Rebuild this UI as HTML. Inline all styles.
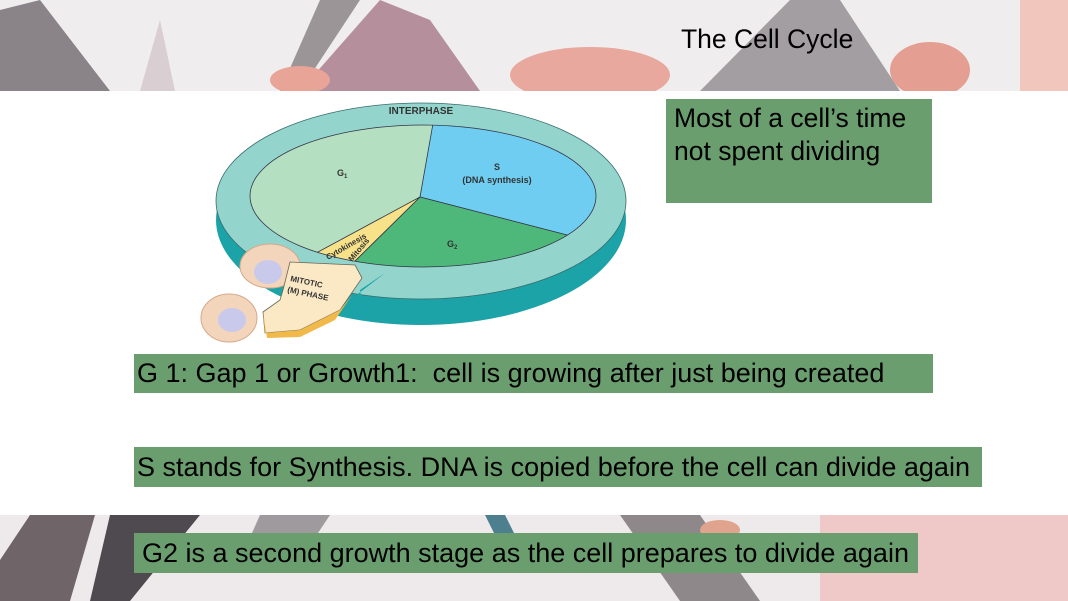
<!DOCTYPE html>
<html><head><meta charset="utf-8"><style>
body{margin:0;width:1068px;height:601px;overflow:hidden;position:relative;background:#f4f2f2;font-family:"Liberation Sans",sans-serif}
.box{position:absolute;background:#6b9e6f;color:#000;font-size:27px;white-space:nowrap}
</style></head><body>
<svg width="1068" height="601" style="position:absolute;left:0;top:0">
<defs><clipPath id="c"><ellipse cx="423" cy="196" rx="173" ry="71"/></clipPath></defs>
<rect x="0" y="0" width="1068" height="91" fill="#efeded"/>
<polygon points="0,10 40,0 110,91 0,91" fill="#8a8488"/>
<polygon points="160,20 175,91 140,91" fill="#d9cfd3"/>
<polygon points="300,91 380,0 430,20 480,91" fill="#b58f9c"/>
<polygon points="320,0 360,0 300,91 280,91" fill="#9c9597"/>
<ellipse cx="300" cy="80" rx="30" ry="14" fill="#e7a497"/>
<ellipse cx="590" cy="75" rx="80" ry="28" fill="#e8a89e"/>
<polygon points="700,91 790,0 840,0 900,91" fill="#a29ea1"/>
<ellipse cx="930" cy="70" rx="40" ry="28" fill="#e49f92"/>
<rect x="1020" y="0" width="48" height="91" fill="#f0c6bd"/>
<rect x="0" y="91" width="1068" height="424" fill="#ffffff"/>
<rect x="0" y="515" width="1068" height="86" fill="#eeeaeb"/>
<polygon points="30,515 95,515 70,601 0,601 0,560" fill="#6f6468"/>
<polygon points="110,515 200,515 130,601 90,601" fill="#4f4a4f"/>
<polygon points="260,515 330,515 300,560 240,560" fill="#9e9a9d"/>
<polygon points="485,515 505,515 515,535 495,535" fill="#4e7f8e"/>
<polygon points="620,515 700,515 760,601 680,601" fill="#8e888b"/>
<rect x="820" y="515" width="248" height="86" fill="#efc9c8"/>
<ellipse cx="720" cy="530" rx="20" ry="10" fill="#e0a38d"/>
<ellipse cx="421" cy="220" rx="205" ry="105" fill="#1ba3a8"/>
<ellipse cx="421" cy="201" rx="205" ry="98" fill="#93d4cd" stroke="#3a6b6b" stroke-width="0.8"/>
<ellipse cx="423" cy="196" rx="173" ry="71" fill="#b4dfc0"/>
<g clip-path="url(#c)" stroke="#334" stroke-width="0.8">
<polygon points="420,197 446,50 800,50 714,273" fill="#6fcdf2"/>
<polygon points="420,197 714,273 600,420 290,325" fill="#4eb87b"/>
<polygon points="420,197 290,325 216,307" fill="#f7e28a"/>
</g>
<ellipse cx="423" cy="196" rx="173" ry="71" fill="none" stroke="#334" stroke-width="0.8"/>
<ellipse cx="270" cy="266" rx="30" ry="22" fill="#f3d5bb" stroke="#d6a88a"/>
<ellipse cx="268" cy="272" rx="14" ry="12" fill="#c9c9ec"/>
<ellipse cx="229" cy="318" rx="28" ry="24" fill="#f3d5bb" stroke="#d6a88a"/>
<ellipse cx="232" cy="320" rx="14" ry="12" fill="#c9c9ec"/>
<polygon points="283,290 290,262 355,265 362,278 340,310 300,330 265,333 263,312 280,300" fill="#fbe9c6" stroke="#665" stroke-width="0.8"/>
<polygon points="263,312 265,333 300,330 340,310 352,295 335,320 300,337 267,338" fill="#f1b84a"/>
<polygon points="350,300 385,273 360,290 365,320" fill="#1ba3a8"/>
<text x="421" y="114" font-size="10" font-weight="bold" text-anchor="middle" fill="#333">INTERPHASE</text>
<text x="337" y="176" font-size="9" font-weight="bold" fill="#333">G<tspan font-size="6" dy="2">1</tspan></text>
<text x="497" y="170" font-size="9" font-weight="bold" text-anchor="middle" fill="#333">S</text>
<text x="497" y="183" font-size="9" font-weight="bold" text-anchor="middle" fill="#333">(DNA synthesis)</text>
<text x="447" y="247" font-size="9" font-weight="bold" fill="#333">G<tspan font-size="6" dy="2">2</tspan></text>
<text x="328" y="260" font-size="8" font-weight="bold" fill="#333" transform="rotate(-30 328 260)">Cytokinesis</text>
<text x="352" y="262" font-size="8" font-weight="bold" fill="#333" transform="rotate(-50 352 262)">Mitosis</text>
<text x="290" y="281" font-size="8" font-weight="bold" fill="#333" transform="rotate(12 290 281)">MITOTIC</text>
<text x="287" y="292" font-size="8" font-weight="bold" fill="#333" transform="rotate(12 287 292)">(M) PHASE</text>
</svg>
<div style="position:absolute;left:681px;top:24px;font-size:26.5px;color:#000">The Cell Cycle</div>
<div class="box" style="left:666px;top:99px;width:266px;height:104px;padding-left:8px;line-height:33px;padding-top:3px;box-sizing:border-box;white-space:normal;font-size:26.5px">Most of a cell’s time not spent dividing</div>
<div class="box" style="left:134px;top:354px;width:799px;height:39px;line-height:39px;padding-left:3px;box-sizing:border-box">G 1: Gap 1 or Growth1:&nbsp; cell is growing after just being created</div>
<div class="box" style="left:134px;top:447px;width:848px;height:40px;line-height:40px;padding-left:3px;box-sizing:border-box">S stands for Synthesis. DNA is copied before the cell can divide again</div>
<div class="box" style="left:134px;top:533px;width:784px;height:40px;line-height:40px;padding-left:8px;box-sizing:border-box">G2 is a second growth stage as the cell prepares to divide again</div>
</body></html>
